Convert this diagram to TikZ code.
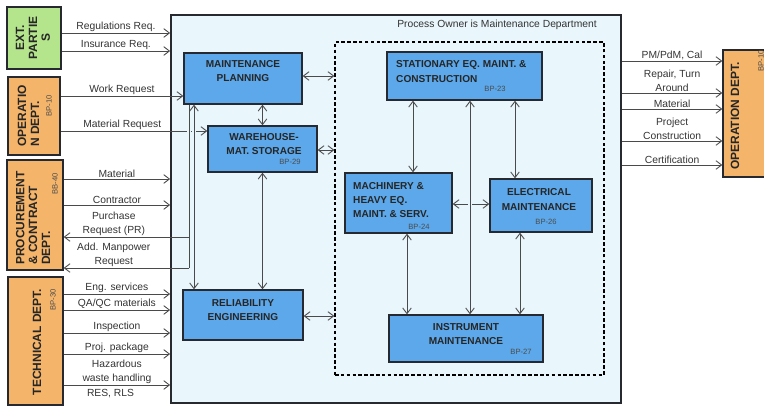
\documentclass[tikz,border=0pt]{standalone}
\usepackage{fontspec}
\setmainfont{Liberation Sans}
\usetikzlibrary{arrows.meta}
\definecolor{pagebg}{HTML}{E9F6FC}
\definecolor{deptor}{HTML}{F4B46A}
\definecolor{deptgr}{HTML}{B4E48C}
\definecolor{bpblue}{HTML}{5CA8EA}
\definecolor{edgec}{HTML}{262A30}
\definecolor{wirec}{HTML}{4A4A4A}

\begin{document}
\begin{tikzpicture}[x=0.3mm, y=-0.3mm,
		>={Straight Barb[length=1.7mm,width=2.6mm]},
		dept/.style={draw=edgec, line width=1.2pt, fill=deptor},
		bpbox/.style={draw=edgec, line width=1.2pt, fill=bpblue},
		ttl/.style={font=\fontsize{8.6}{12}\selectfont\bfseries, align=center, inner sep=0pt, text=black!85},
		dtl/.style={font=\fontsize{10.2}{11}\selectfont\bfseries, rotate=90, inner sep=0pt, text=black!85},
		bpn/.style={font=\fontsize{6.5}{7}\selectfont, inner sep=0pt, text=black!70},
		wire/.style={draw=wirec, line width=0.75pt},
		lbl/.style={font=\fontsize{8.8}{11.8}\selectfont, align=center, inner sep=1pt, text=black!80},
		gap/.style={preaction={draw=pagebg, line width=4pt, -, shorten <=3pt, shorten >=3pt}}]
	\useasboundingbox (0,0) rectangle (764,407);

	\node[draw=edgec, line width=1.5pt, fill=pagebg, minimum width=135mm, minimum height=116.4mm] (main) at (396,209) {};
	\node[lbl] (owner) at (497,25) {Process Owner is Maintenance Department};
	\node[draw=black, line width=1.2pt, dash pattern=on 3pt off 2pt, minimum width=80.7mm, minimum height=99.9mm] (grp) at (469.5,208.5) {};

	\node[dept, fill=deptgr, minimum width=16.2mm, minimum height=18.6mm] (ext) at (34,38) {};
	\node[dtl, align=center] (extt) at (33,38) {EXT.\\PARTIE\\S};
	\node[dept, minimum width=15.6mm, minimum height=23.4mm] (oper) at (34,116) {};
	\node[dtl, align=left, anchor=west] (opert) at (28.5,147) {OPERATIO\\N DEPT.};
	\node[bpn, rotate=90] (operbp) at (49,106) {BP-10};
	\node[dept, minimum width=16.8mm, minimum height=33mm] (proc) at (35,215) {};
	\node[dtl, align=left, anchor=west] (proct) at (33,265) {PROCUREMENT\\\& CONTRACT\\DEPT.};
	\node[bpn, rotate=90] (procbp) at (55,184) {BB-40};
	\node[dept, minimum width=16.5mm, minimum height=38.4mm] (tech) at (35.5,341) {};
	\node[dtl] (techt) at (37,342) {TECHNICAL DEPT.};
	\node[bpn, rotate=90] (techbp) at (53,300) {BP-30};
	\node[dept, minimum width=15.6mm, minimum height=38.1mm] (opr) at (749,113.5) {};
	\node[dtl] (oprt) at (735,116) {OPERATION DEPT.};
	\node[bpn, rotate=90] (oprbp) at (761,61) {BP-10};

	\node[bpbox, minimum width=35.4mm, minimum height=15.3mm] (plan) at (243,78.5) {};
	\node[ttl] (plant) at (243,71) {MAINTENANCE\\PLANNING};
	\node[bpbox, minimum width=32.7mm, minimum height=13.8mm] (ware) at (262.5,149) {};
	\node[ttl] (waret) at (264,144) {WAREHOUSE-\\MAT. STORAGE};
	\node[bpn] (warebp) at (290,162) {BP-29};
	\node[bpbox, minimum width=36mm, minimum height=15mm] (rel) at (243,315) {};
	\node[ttl] (relt) at (243,310) {RELIABILITY\\ENGINEERING};
	\node[bpbox, minimum width=46.5mm, minimum height=14.4mm] (stat) at (464.5,76) {};
	\node[ttl, align=left, anchor=west] (statt) at (396,71.5) {STATIONARY EQ. MAINT. \&\\CONSTRUCTION};
	\node[bpn] (statbp) at (495,89) {BP-23};
	\node[bpbox, minimum width=32.1mm, minimum height=18mm] (mach) at (398.5,203) {};
	\node[ttl, align=left, anchor=west] (macht) at (353,200) {MACHINERY \&\\HEAVY EQ.\\MAINT. \& SERV.};
	\node[bpn] (machbp) at (419,227) {BP-24};
	\node[bpbox, minimum width=30.6mm, minimum height=15.9mm] (elec) at (541,205.5) {};
	\node[ttl] (elect) at (539,199.5) {ELECTRICAL\\MAINTENANCE};
	\node[bpn] (elecbp) at (546,222) {BP-26};
	\node[bpbox, minimum width=46.2mm, minimum height=14.1mm] (inst) at (466,338.5) {};
	\node[ttl] (instt) at (466,334) {INSTRUMENT\\MAINTENANCE};
	\node[bpn] (instbp) at (521,352) {BP-27};

	\draw[wire, ->] (ext.east |- 0,33) -- node[lbl, above] {Regulations Req.} (main.west |- 0,33);
	\draw[wire, ->] (ext.east |- 0,51) -- node[lbl, above] {Insurance Req.} (main.west |- 0,51);
	\draw[wire, ->] (oper.east |- 0,96) -- node[lbl, above] {Work Request} (plan.west |- 0,96);
	\draw[wire, ->] (oper.east |- 0,131) -- node[lbl, above, pos=.42] {Material Request} (ware.west |- 0,131);
	\draw[wire, ->] (proc.east |- 0,179) -- node[lbl, above] {Material} (main.west |- 0,179);
	\draw[wire, ->] (proc.east |- 0,205) -- node[lbl, above] {Contractor} (main.west |- 0,205);

	\coordinate (bus) at (189,268);
	\coordinate (pr) at (189,237);
	\draw[wire, gap] (plan.south -| bus) -- (bus);
	\draw[wire, ->] (pr) -- node[lbl, above, pos=.6] {Purchase\\Request (PR)} (proc.east |- pr);
	\draw[wire, ->] (bus) -- node[lbl, above, pos=.6] {Add. Manpower\\Request} (proc.east |- bus);
	\draw[wire, gap, <->] (plan.south -| 194,0) -- (rel.north -| 194,0);

	\draw[wire, ->] (tech.east |- 0,294) -- node[lbl, above] {Eng. services} (main.west |- 0,294);
	\draw[wire, ->] (tech.east |- 0,310) -- node[lbl, above] {QA/QC materials} (main.west |- 0,310);
	\draw[wire, ->] (tech.east |- 0,333) -- node[lbl, above] {Inspection} (main.west |- 0,333);
	\draw[wire, ->] (tech.east |- 0,354) -- node[lbl, above] {Proj. package} (main.west |- 0,354);
	\draw[wire, ->] (tech.east |- 0,385) -- node[lbl, above] {Hazardous\\waste handling} node[lbl, below=2pt, pos=.44] {RES, RLS} (main.west |- 0,385);

	\draw[wire, ->] (main.east |- 0,61) -- node[lbl, above] {PM/PdM, Cal} (opr.west |- 0,61);
	\draw[wire, ->] (main.east |- 0,93) -- node[lbl, above] {Repair, Turn\\Around} (opr.west |- 0,93);
	\draw[wire, ->] (main.east |- 0,109) -- node[lbl, above] {Material} (opr.west |- 0,109);
	\draw[wire, ->] (main.east |- 0,141) -- node[lbl, above] {Project\\Construction} (opr.west |- 0,141);
	\draw[wire, ->] (main.east |- 0,165) -- node[lbl, above] {Certification} (opr.west |- 0,165);

	\draw[wire, <->] (plan.south -| ware) -- (ware.north);
	\draw[wire, <->] (ware.south) -- (ware.south |- rel.north);
	\draw[wire, <->] (plan.east |- 0,76) -- (grp.west |- 0,76);
	\draw[wire, <->] (ware.east |- 0,150) -- (grp.west |- 0,150);
	\draw[wire, <->] (rel.east |- 0,316) -- (grp.west |- 0,316);

	\draw[wire, <->] (stat.south -| 413,0) -- (mach.north -| 413,0);
	\draw[wire, <->] (stat.south -| 515,0) -- (elec.north -| 515,0);
	\draw[wire, <->] (mach.east |- 0,204) -- (elec.west |- 0,204);
	\draw[wire, gap, <->] (stat.south -| 470,0) -- (inst.north -| 470,0);
	\draw[wire, <->] (mach.south -| 407,0) -- (inst.north -| 407,0);
	\draw[wire, <->] (elec.south -| 520,0) -- (inst.north -| 520,0);
\end{tikzpicture}
\end{document}
